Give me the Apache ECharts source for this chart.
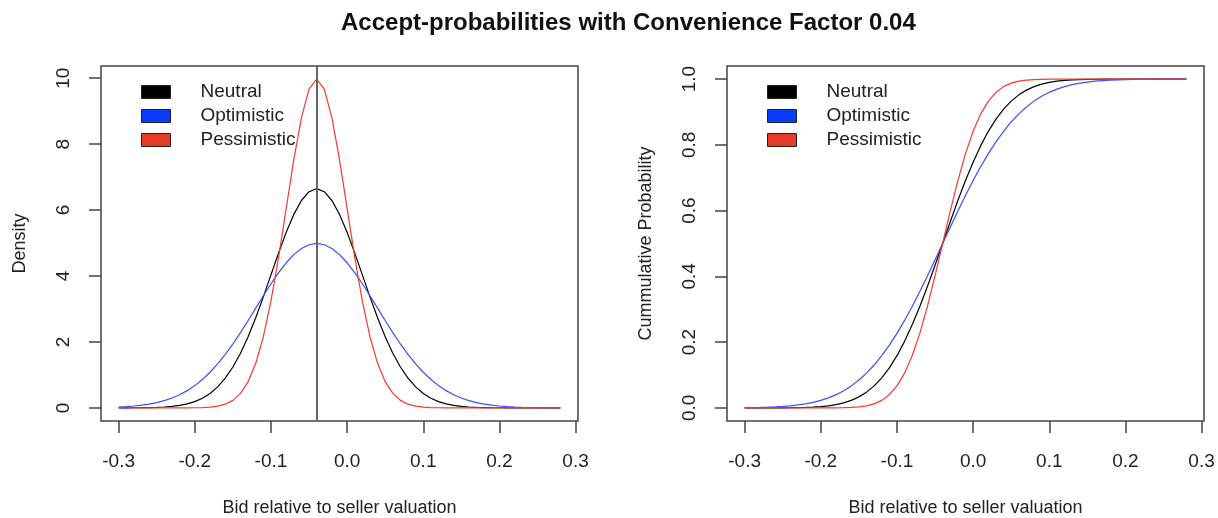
<!DOCTYPE html>
<html>
<head>
<meta charset="utf-8">
<title>Accept-probabilities</title>
<script src="https://cdn.jsdelivr.net/npm/echarts@6/dist/echarts.min.js"></script>
<style>
  html, body { margin: 0; padding: 0; background: #fff; }
  #main { width: 1218px; height: 518px; }
</style>
</head>
<body>
<div id="main"></div>
<script>
// bids relative to seller valuation (x), step 0.01
var bidValues = [-0.30,-0.29,-0.28,-0.27,-0.26,-0.25,-0.24,-0.23,-0.22,-0.21,
  -0.20,-0.19,-0.18,-0.17,-0.16,-0.15,-0.14,-0.13,-0.12,-0.11,
  -0.10,-0.09,-0.08,-0.07,-0.06,-0.05,-0.04,-0.03,-0.02,-0.01,
  0.00,0.01,0.02,0.03,0.04,0.05,0.06,0.07,0.08,0.09,
  0.10,0.11,0.12,0.13,0.14,0.15,0.16,0.17,0.18,0.19,
  0.20,0.21,0.22,0.23,0.24,0.25,0.26,0.27,0.28];

// density (left panel)
var densNeutral = [0.0006,0.0011,0.0022,0.0043,0.0080,0.0146,0.0257,0.0442,0.0739,0.120,
  0.190,0.292,0.437,0.636,0.900,1.238,1.658,2.159,2.734,3.367,
  4.033,4.699,5.324,5.868,6.290,6.557,6.649,6.557,6.290,5.868,
  5.324,4.699,4.033,3.367,2.734,2.159,1.658,1.238,0.900,0.636,
  0.437,0.292,0.190,0.120,0.0739,0.0442,0.0257,0.0146,0.0080,0.0043,
  0.0022,0.0011,0.0006,0.0003,0.0001,0.0001,0,0,0];
var densOptimistic = [0.0254,0.0378,0.0554,0.080,0.114,0.159,0.219,0.297,0.397,0.522,
  0.675,0.860,1.079,1.332,1.619,1.938,2.283,2.649,3.025,3.401,
  3.764,4.102,4.401,4.648,4.834,4.948,4.987,4.948,4.834,4.648,
  4.401,4.102,3.764,3.401,3.025,2.649,2.283,1.938,1.619,1.332,
  1.079,0.860,0.675,0.522,0.397,0.297,0.219,0.159,0.114,0.080,
  0.0554,0.0378,0.0254,0.0168,0.0109,0.0070,0.0044,0.0027,0.0017];
var densPessimistic = [0,0,0,0,0,0,0,0.0001,0.0004,0.0012,
  0.0033,0.0088,0.0218,0.0508,0.111,0.227,0.438,0.794,1.350,2.157,
  3.238,4.566,6.050,7.529,8.802,9.667,9.974,9.667,8.802,7.529,
  6.050,4.566,3.238,2.157,1.350,0.794,0.438,0.227,0.111,0.0508,
  0.0218,0.0088,0.0033,0.0012,0.0004,0.0001,0,0,0,0,
  0,0,0,0,0,0,0,0,0];

// cumulative probability (right panel)
var cdfNeutral = [0,0,0,0.0001,0.0001,0.0002,0.0004,0.0008,0.0013,0.0023,
  0.0038,0.0062,0.0098,0.0151,0.0228,0.0334,0.0478,0.0668,0.0912,0.1217,
  0.1587,0.2023,0.2525,0.3085,0.3694,0.4338,0.5,0.5662,0.6306,0.6915,
  0.7475,0.7977,0.8413,0.8783,0.9088,0.9332,0.9522,0.9666,0.9772,0.9849,
  0.9902,0.9938,0.9962,0.9977,0.9987,0.9992,0.9996,0.9998,0.9999,0.9999,
  1,1,1,1,1,1,1,1,1];
var cdfOptimistic = [0.0006,0.0009,0.0013,0.0020,0.0030,0.0043,0.0062,0.0088,0.0122,0.0168,
  0.0228,0.0304,0.0401,0.0521,0.0668,0.0846,0.1056,0.1303,0.1587,0.1908,
  0.2266,0.2660,0.3085,0.3538,0.4013,0.4503,0.5,0.5497,0.5987,0.6462,
  0.6915,0.7340,0.7734,0.8092,0.8413,0.8697,0.8944,0.9154,0.9332,0.9479,
  0.9599,0.9696,0.9772,0.9832,0.9878,0.9912,0.9938,0.9957,0.9970,0.9980,
  0.9987,0.9991,0.9994,0.9996,0.9998,0.9999,0.9999,1,1];
var cdfPessimistic = [0,0,0,0,0,0,0,0,0,0,
  0,0.0001,0.0002,0.0006,0.0013,0.0030,0.0062,0.0122,0.0228,0.0401,
  0.0668,0.1056,0.1587,0.2266,0.3085,0.4013,0.5,0.5987,0.6915,0.7734,
  0.8413,0.8944,0.9332,0.9599,0.9772,0.9878,0.9938,0.9970,0.9987,0.9994,
  0.9998,0.9999,1,1,1,1,1,1,1,1,
  1,1,1,1,1,1,1,1,1];

var xTicks = [-0.3,-0.2,-0.1,0,0.1,0.2,0.3];
var densityTicks = [0,2,4,6,8,10];
var probTicks = [0,0.2,0.4,0.6,0.8,1];
var convenienceFactor = -0.04;

var names = ['Neutral','Optimistic','Pessimistic'];
var lineColors = ['#000000','#3a4dff','#f23b2f'];
var fillColors = ['#000000','#0a3cff','#e63b27'];

var FONT = 'Liberation Sans, Arial, Helvetica, sans-serif';
var BOX = '#444';

function pairs(ys) {
  var out = [];
  for (var i = 0; i < bidValues.length; i++) {
    out.push([bidValues[i], ys[i]]);
  }
  return out;
}

function xAxisFor(idx) {
  return {
    gridIndex: idx, type: 'value',
    min: -0.3232, max: 0.3032,
    name: 'Bid relative to seller valuation',
    nameLocation: 'middle', nameGap: 78,
    nameTextStyle: { fontFamily: FONT, fontSize: 18, color: '#222' },
    axisLine: { show: false, onZero: false },
    axisTick: { show: true, inside: false, length: 12, customValues: xTicks,
      lineStyle: { color: BOX, width: 1.5 } },
    axisLabel: { customValues: xTicks, margin: 31, fontFamily: FONT, fontSize: 19, color: '#222',
      formatter: function (v) { return v.toFixed(1); } },
    splitLine: { show: false }
  };
}

function yAxisFor(idx, name, lo, hi, ticks, dec, gap) {
  return {
    gridIndex: idx, type: 'value',
    min: lo, max: hi,
    name: name, nameLocation: 'middle', nameGap: gap,
    nameTextStyle: { fontFamily: FONT, fontSize: 18, color: '#222' },
    axisLine: { show: false, onZero: false },
    axisTick: { show: true, inside: false, length: 12, customValues: ticks,
      lineStyle: { color: BOX, width: 1.5 } },
    axisLabel: { customValues: ticks, rotate: 90, margin: 28, fontFamily: FONT, fontSize: 19, color: '#222',
      formatter: function (v) { return v.toFixed(dec); } },
    splitLine: { show: false }
  };
}

function legendFor(left) {
  return {
    left: left, top: 77, orient: 'vertical',
    selectedMode: false,
    icon: 'rect', itemWidth: 29, itemHeight: 13, itemGap: 4,
    textStyle: { fontFamily: FONT, fontSize: 19, lineHeight: 20, color: '#222', padding: [0, 0, 0, 25] },
    data: names.map(function (n, i) {
      return { name: n, itemStyle: { color: fillColors[i], borderColor: '#222', borderWidth: 1 } };
    })
  };
}

var leftData = [densNeutral, densOptimistic, densPessimistic];
var rightData = [cdfNeutral, cdfOptimistic, cdfPessimistic];
var series = [];
names.forEach(function (n, i) {
  var s = {
    name: n, type: 'line', xAxisIndex: 0, yAxisIndex: 0,
    data: pairs(leftData[i]), symbol: 'none', silent: true,
    lineStyle: { color: lineColors[i], width: 1.2 },
    itemStyle: { color: lineColors[i] }
  };
  if (i === 0) {
    s.markLine = {
      silent: true, symbol: ['none', 'none'], label: { show: false },
      lineStyle: { color: '#666', width: 2, type: 'solid' },
      data: [{ xAxis: convenienceFactor }]
    };
  }
  series.push(s);
});
names.forEach(function (n, i) {
  series.push({
    name: n, type: 'line', xAxisIndex: 1, yAxisIndex: 1,
    data: pairs(rightData[i]), symbol: 'none', silent: true,
    lineStyle: { color: lineColors[i], width: 1.2 },
    itemStyle: { color: lineColors[i] }
  });
});

var gridBase = { top: 66, width: 477, height: 355, show: true, borderColor: BOX, borderWidth: 1.5,
  backgroundColor: 'transparent', containLabel: false, outerBoundsMode: 'none' };

var chart = echarts.init(document.getElementById('main'));
chart.setOption({
  animation: false,
  backgroundColor: '#fff',
  title: {
    text: 'Accept-probabilities with Convenience Factor 0.04',
    left: 336, top: 6,
    textStyle: { fontFamily: FONT, fontSize: 24, fontWeight: 'bold', color: '#111' }
  },
  legend: [legendFor(136), legendFor(762)],
  grid: [
    Object.assign({ left: 101 }, gridBase),
    Object.assign({ left: 727 }, gridBase)
  ],
  xAxis: [xAxisFor(0), xAxisFor(1)],
  yAxis: [
    yAxisFor(0, 'Density', -0.399, 10.37, densityTicks, 0, 72),
    yAxisFor(1, 'Cummulative Probability', -0.04, 1.04, probTicks, 1, 72)
  ],
  series: series
});
</script>
</body>
</html>
